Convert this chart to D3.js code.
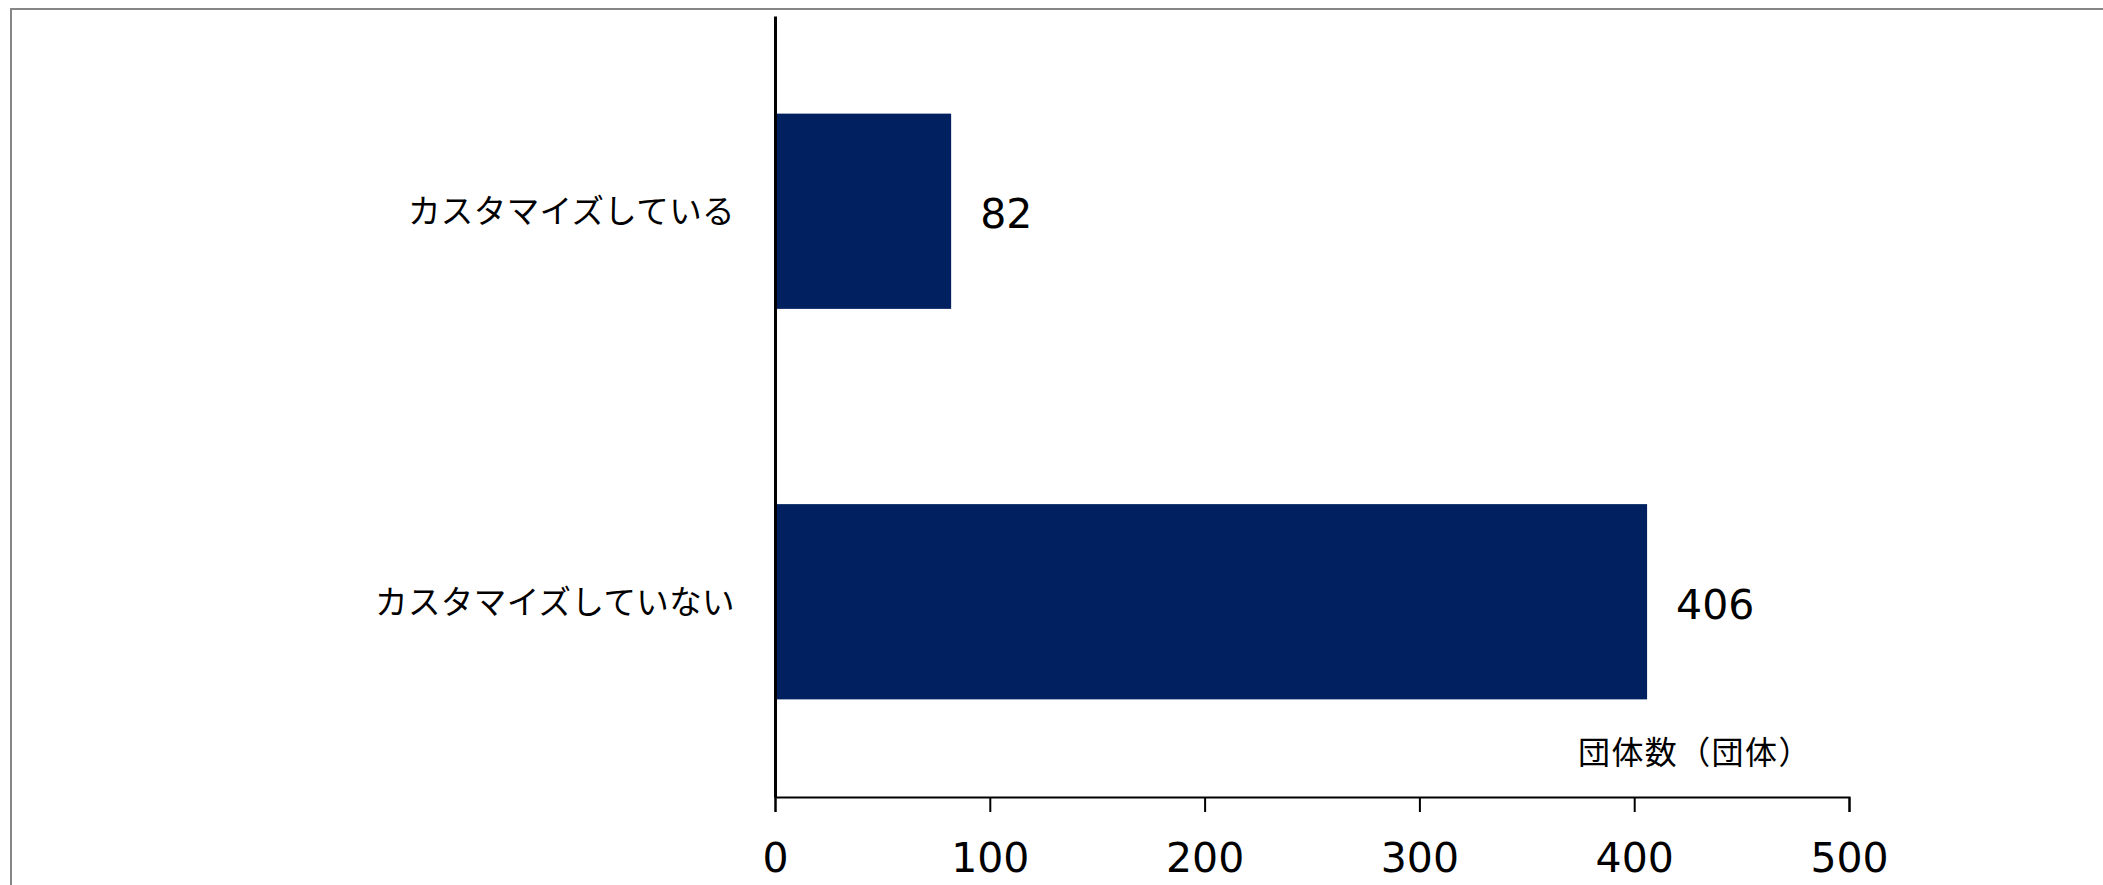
<!DOCTYPE html>
<html lang="ja">
<head>
<meta charset="utf-8">
<script src="https://cdn.jsdelivr.net/npm/d3@7"></script>
<style>
  html, body { margin: 0; padding: 0; background: #fff; }
  svg { display: block; }
</style>
</head>
<body>
<svg id="chart" width="2103" height="885"></svg>
<script>
// Customisation status of organisations (count of organisations)
const categories = ["カスタマイズしている", "カスタマイズしていない"];
const counts = [82, 406];
const xTicks = [0, 100, 200, 300, 400, 500];
const axisTitle = "団体数（団体）";

const svg = d3.select("#chart");
const W = 2103, H = 885;

// chart frame (only its top and left edges fall inside the view)
svg.append("rect")
  .attr("x", 11).attr("y", 9)
  .attr("width", W + 20).attr("height", H + 20)
  .attr("fill", "#fff")
  .attr("stroke", "#868686")
  .attr("stroke-width", 2);

const plotLeft = 775, plotRight = 1849, plotTop = 16, plotBottom = 797;

const x = d3.scaleLinear().domain([0, 500]).range([plotLeft, plotRight]);
const y = d3.scaleBand().domain(categories).range([plotTop, plotBottom])
  .paddingInner(0.5).paddingOuter(0.25);

const data = categories.map((c, i) => ({ cat: c, value: counts[i] }));

// bars
svg.append("g").selectAll("rect").data(data).join("rect")
  .attr("x", x(0))
  .attr("y", d => y(d.cat))
  .attr("width", d => x(d.value) - x(0))
  .attr("height", y.bandwidth())
  .attr("fill", "#002060");

// value labels
svg.append("g").selectAll("text").data(data).join("text")
  .attr("x", d => x(d.value) + 29)
  .attr("y", d => y(d.cat) + y.bandwidth() / 2 + 17)
  .attr("font-family", "'DejaVu Sans', Verdana, sans-serif")
  .attr("font-size", 41)
  .attr("fill", "#000")
  .text(d => d.value);

// x axis
const xAxis = d3.axisBottom(x).tickValues(xTicks).tickSize(15).tickSizeOuter(15).tickPadding(31);
const gx = svg.append("g").attr("transform", `translate(0,${plotBottom})`).call(xAxis);
gx.select(".domain").attr("stroke", "#000").attr("stroke-width", 2);
gx.selectAll(".tick line").attr("stroke", "#000").attr("stroke-width", 2);
gx.selectAll(".tick text")
  .attr("font-family", "'DejaVu Sans', Verdana, sans-serif")
  .attr("font-size", 41)
  .attr("fill", "#000");

// y axis (line only, labels drawn separately)
const yAxis = d3.axisLeft(y).tickSize(0).tickFormat("");
const gy = svg.append("g").attr("transform", `translate(${plotLeft},0)`).call(yAxis);
gy.select(".domain").attr("stroke", "#000").attr("stroke-width", 3);

// category labels
svg.append("g").selectAll("text").data(categories).join("text")
  .attr("x", 735)
  .attr("y", d => y(d) + y.bandwidth() / 2 + 12)
  .attr("text-anchor", "end")
  .attr("font-family", "'Noto Sans CJK JP', sans-serif")
  .attr("font-size", 32.5)
  .attr("letter-spacing", 0.4)
  .attr("fill", "#000")
  .text(d => d);

// axis title
svg.append("text")
  .attr("x", 1578)
  .attr("y", 764)
  .attr("font-family", "'Noto Sans CJK JP', sans-serif")
  .attr("font-size", 32)
  .attr("letter-spacing", 1.4)
  .attr("fill", "#000")
  .text(axisTitle);
</script>
</body>
</html>
